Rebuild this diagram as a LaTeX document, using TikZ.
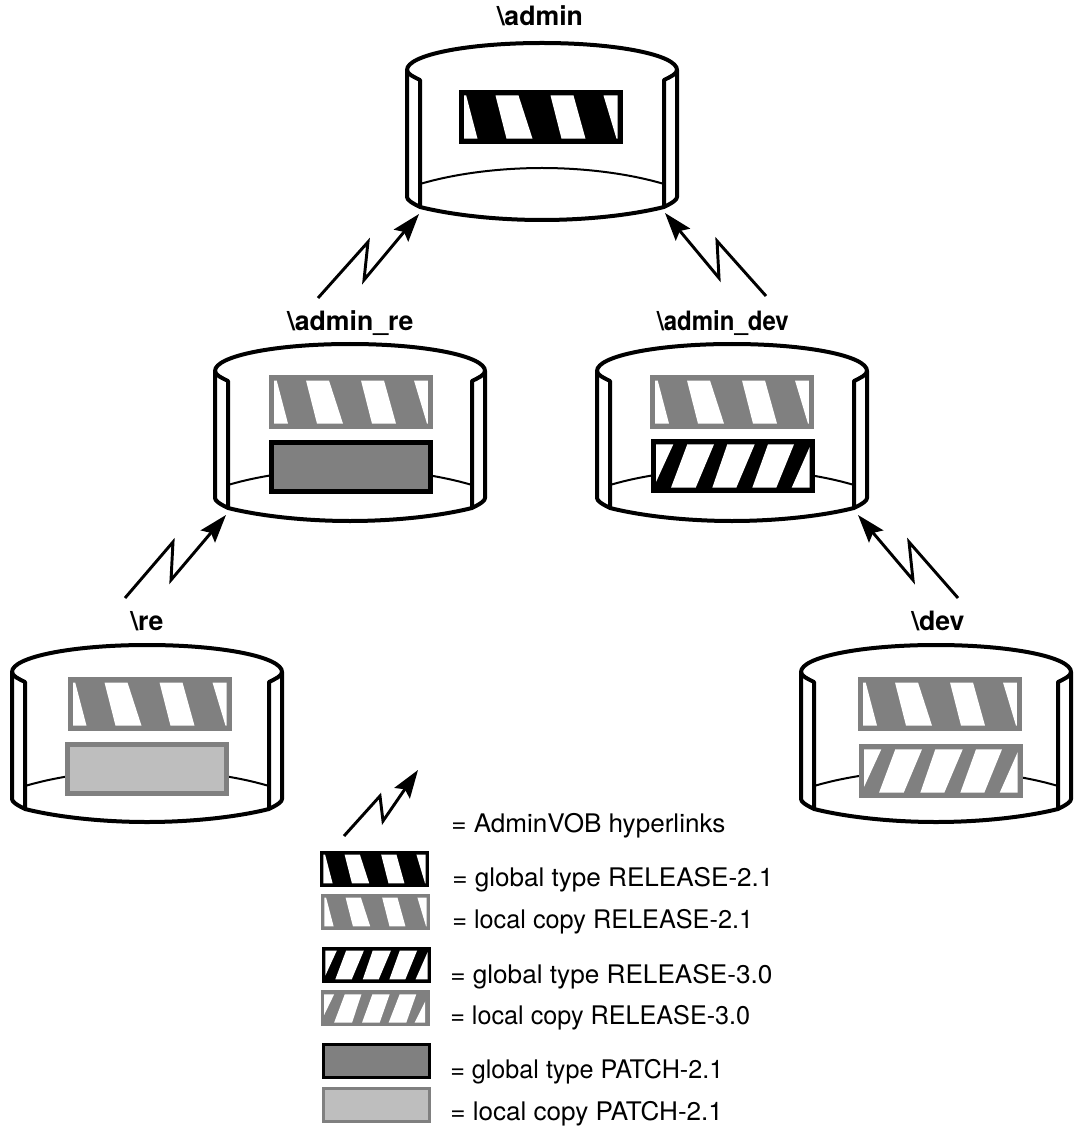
\documentclass[tikz,border=0pt]{standalone}
\usepackage{fontspec}
\setmainfont{TeX Gyre Heros}
\usetikzlibrary{arrows.meta}
\definecolor{midgray}{HTML}{808080}
\definecolor{lightgray2}{HTML}{BEBEBE}
\tikzset{
  vobwall/.style={draw=black,line width=3pt,line join=round,fill=white},
  vobfloor/.style={draw=black,line width=1.5pt},
  hlink/.style={draw=black,line width=2.2pt,line join=miter,miter limit=20,
    -{Stealth[length=21pt,width=14pt,inset=3.5pt]}},
  vobtitle/.style={font=\bfseries\fontsize{20pt}{22pt}\selectfont,anchor=base,inner sep=0pt},
  legendtext/.style={font=\fontsize{19.2pt}{22pt}\selectfont,anchor=base west,inner sep=0pt,transform shape},
}
\newcommand{\vobshape}[2]{%
  \begin{scope}[shift={(#1,#2)}]
    \path[vobwall] (-135,27) .. controls (-135,12) and (-75,0) .. (0,0)
      .. controls (75,0) and (135,12) .. (135,27) -- (135,154)
      .. controls (135,157) and (130,160) .. (122,164)
      .. controls (90,172) and (45,177) .. (0,177)
      .. controls (-45,177) and (-90,172) .. (-122,164)
      .. controls (-130,160) and (-135,157) .. (-135,154) -- cycle;
    \draw[vobwall,fill=none] (-135,27) .. controls (-135,31) and (-128,34) .. (-122,37) -- (-122,164);
    \draw[vobwall,fill=none] (135,27) .. controls (135,31) and (128,34) .. (122,37) -- (122,164);
    \draw[vobfloor] (-122,141) .. controls (-85,130) and (-40,125) .. (0,125)
      .. controls (40,125) and (85,130) .. (122,141);
  \end{scope}}
\newcommand{\stripesback}{%
  \fill[white] (5,5.5) -- (7.7,5.5) -- (19,48.7) -- (5,48.7) -- cycle;
  \fill[white] (37,5.5) -- (60,5.5) -- (74,48.7) -- (48,48.7) -- cycle;
  \fill[white] (92,5.5) -- (115,5.5) -- (127,48.7) -- (103,48.7) -- cycle;
  \fill[white] (145,5.5) -- (159,5.5) -- (159,48.7) -- (158,48.7) -- cycle;}
\newcommand{\stripesfwd}{%
  \fill[white] (5,5.3) -- (22.3,5.3) -- (5,43) -- cycle;
  \fill[white] (36.3,5.3) -- (63,5.3) -- (44.7,48.7) -- (20,48.7) -- cycle;
  \fill[white] (76.3,5.3) -- (103.7,5.3) -- (85.3,48.7) -- (61.3,48.7) -- cycle;
  \fill[white] (117,5.3) -- (143,5.3) -- (125.3,48.7) -- (101.3,48.7) -- cycle;
  \fill[white] (158.7,8) -- (158.7,48.7) -- (140.7,48.7) -- cycle;}
\newcommand{\stripesfwdwide}{%
  \fill[white] (5.5,6.5) -- (20.5,6.5) -- (5.5,37.5) -- cycle;
  \fill[white] (36.5,6.5) -- (61.5,6.5) -- (47.5,49) -- (20.5,49) -- cycle;
  \fill[white] (78,6.5) -- (104,6.5) -- (89,49) -- (62.5,49) -- cycle;
  \fill[white] (119,6.5) -- (144,6.5) -- (129,49) -- (102.5,49) -- cycle;
  \fill[white] (157.5,17) -- (157.5,49) -- (141.5,49) -- cycle;}
\newcommand{\stripesnone}{}
% x, y, scale, border colour, body colour, stripes
\newcommand{\tagbox}[6]{%
  \begin{scope}[shift={(#1,#2)},scale=#3]
    \fill[#5] (0,0) rectangle (164,54);
    #6
    \draw[#4,line width={#3*3.75pt},line join=miter] (2.5,2.5) rectangle (161.5,51.5);
  \end{scope}}
\begin{document}
\begin{tikzpicture}[x=0.75pt,y=-0.75pt]
\useasboundingbox (0,0) rectangle (1074,1126);
% admin
\vobshape{542}{43}
\tagbox{458.5}{90}{1}{black}{black}{\stripesback}
\node[vobtitle] (tadmin) at (540,26) {\textbackslash admin};
% admin_re
\vobshape{350}{344}
\tagbox{269}{375}{1}{midgray}{midgray}{\stripesback}
\tagbox{269}{440}{1}{black}{midgray}{\stripesnone}
\node[vobtitle] (tadminre) at (350.5,330) {\textbackslash admin\_re};
% admin_dev
\vobshape{732}{344}
\tagbox{650}{375}{1}{midgray}{midgray}{\stripesback}
\tagbox{651}{439}{1}{black}{black}{\stripesfwd}
\node[vobtitle,transform shape,xscale=0.9] (tadmindev) at (723,330) {\textbackslash admin\_dev};
% re
\vobshape{147}{645}
\tagbox{67.5}{677}{1}{midgray}{midgray}{\stripesback}
\tagbox{65}{742}{1}{midgray}{lightgray2}{\stripesnone}
\node[vobtitle] (tre) at (147,630) {\textbackslash re};
% dev
\vobshape{936}{645}
\tagbox{858}{677}{1}{midgray}{midgray}{\stripesback}
\tagbox{859}{744}{1}{midgray}{midgray}{\stripesfwd}
\node[vobtitle] (tdev) at (938,630) {\textbackslash dev};
% hyperlinks
\coordinate (a1s) at (318,298); \coordinate (a1k) at (368,242); \coordinate (a1l) at (364,280); \coordinate (a1t) at (419,214);
\coordinate (a2s) at (766,296); \coordinate (a2k) at (717,241); \coordinate (a2l) at (719,278); \coordinate (a2t) at (665,213);
\coordinate (a3s) at (125,598); \coordinate (a3k) at (173,542); \coordinate (a3l) at (171,580); \coordinate (a3t) at (226,515);
\coordinate (a4s) at (958,598); \coordinate (a4k) at (909,542); \coordinate (a4l) at (913,580); \coordinate (a4t) at (858,515);
\coordinate (a5s) at (344,836); \coordinate (a5k) at (380,796); \coordinate (a5l) at (383,821); \coordinate (a5t) at (418,770);
\draw[hlink] (a1s) -- (a1k) -- (a1l) -- (a1t);
\draw[hlink] (a2s) -- (a2k) -- (a2l) -- (a2t);
\draw[hlink] (a3s) -- (a3k) -- (a3l) -- (a3t);
\draw[hlink] (a4s) -- (a4k) -- (a4l) -- (a4t);
\draw[hlink] (a5s) -- (a5k) -- (a5l) -- (a5t);
% legend
\tagbox{320}{851}{0.665}{black}{black}{\stripesback}
\tagbox{321}{894}{0.665}{midgray}{midgray}{\stripesback}
\tagbox{322}{947}{0.665}{black}{black}{\stripesfwd}
\tagbox{320.5}{990}{0.665}{midgray}{midgray}{\stripesfwdwide}
\tagbox{322}{1043}{0.665}{black}{midgray}{\stripesnone}
\tagbox{322}{1087}{0.665}{midgray}{lightgray2}{\stripesnone}
\node[legendtext,xscale=1.019] (l1) at (451,832) {= AdminVOB hyperlinks};
\node[legendtext,xscale=1.019] (l2) at (452,886) {= global type RELEASE-2.1};
\node[legendtext,xscale=0.987] (l3) at (452,928) {= local copy RELEASE-2.1};
\node[legendtext,xscale=1.022] (l4) at (450,983) {= global type RELEASE-3.0};
\node[legendtext,xscale=0.984] (l5) at (450,1024) {= local copy RELEASE-3.0};
\node[legendtext,xscale=0.982] (l6) at (450,1078) {= global type PATCH-2.1};
\node[legendtext,xscale=1.019] (l7) at (450,1120) {= local copy PATCH-2.1};
\end{tikzpicture}
\end{document}
